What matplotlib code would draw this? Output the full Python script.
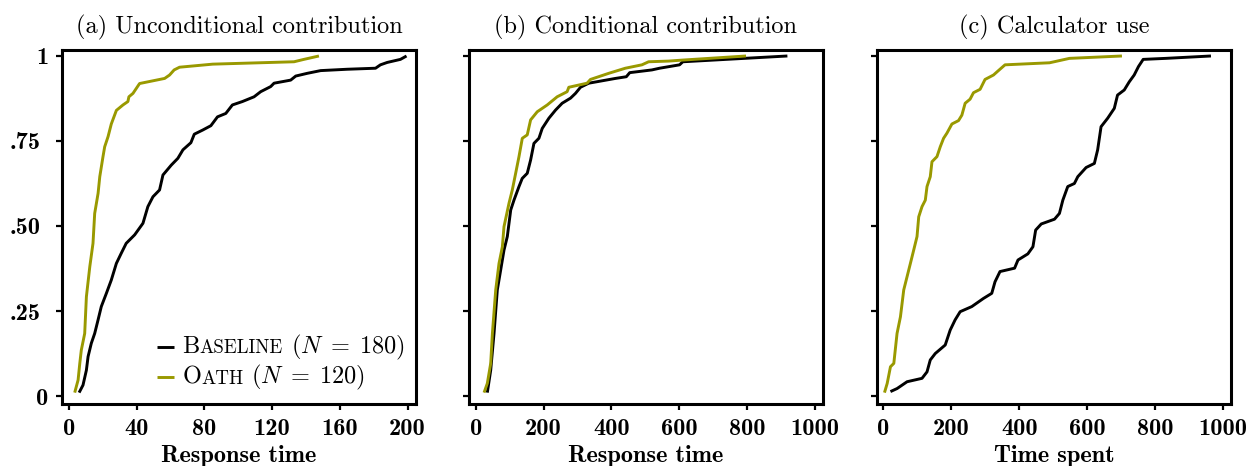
import matplotlib
matplotlib.use("Agg")
import matplotlib.pyplot as plt
from matplotlib.lines import Line2D
from matplotlib.transforms import ScaledTranslation
from matplotlib.offsetbox import TextArea, DrawingArea, HPacker, VPacker, AnchoredOffsetbox

# ---------------- data ----------------
titles = ["(a) Unconditional contribution", "(b) Conditional contribution", "(c) Calculator use"]
xlabels = ["Response time", "Response time", "Time spent"]
yticks = [0, 0.25, 0.5, 0.75, 1]
ytick_labels = ["0", ".25", ".50", ".75", "1"]
xticks_a = [0, 40, 80, 120, 160, 200]
xticks_bc = [0, 200, 400, 600, 800, 1000]

oath_a_x = [3.5, 5.5, 6.5, 7.4, 9.4, 10.4, 12.4, 14.3, 15.3, 17.3, 18.3, 20.2, 21.2, 23.2, 25.1,
            28.1, 32.0, 34.9, 35.5, 37.9, 41.8, 56.6, 59.5, 62.2, 65.4, 85.0, 133.0, 138.8, 147.7]
oath_a_y = [0.01, 0.047, 0.096, 0.135, 0.184, 0.292, 0.38, 0.449, 0.537, 0.596, 0.645, 0.704, 0.733,
            0.763, 0.80, 0.84, 0.856, 0.866, 0.88, 0.89, 0.919, 0.934, 0.944, 0.959, 0.967, 0.976,
            0.983, 0.99, 1.0]

base_a_x = [6.1, 8.4, 10.4, 11.4, 13.3, 15.3, 17.3, 19.2, 22.2, 25.1, 28.1, 31.0, 33.9, 38.9, 43.8,
            46.7, 49.7, 53.6, 55.6, 60.5, 64.4, 67.4, 72.1, 74.1, 79.0, 83.9, 87.8, 92.7, 96.6,
            102.5, 109.4, 113.3, 119.2, 121.2, 131.0, 134.0, 140.8, 148.7, 164.4, 181.1, 184.0,
            188.0, 195.8, 199.4]
base_a_y = [0.01, 0.032, 0.076, 0.116, 0.155, 0.184, 0.224, 0.263, 0.302, 0.341, 0.39, 0.42, 0.449,
            0.474, 0.508, 0.557, 0.586, 0.606, 0.65, 0.679, 0.699, 0.724, 0.745, 0.77, 0.782, 0.795,
            0.821, 0.831, 0.856, 0.866, 0.88, 0.895, 0.91, 0.92, 0.929, 0.941, 0.949, 0.957, 0.961,
            0.964, 0.974, 0.981, 0.99, 1.0]

oath_b_x = [24.4, 34, 44, 49, 58.8, 68.5, 78.4, 83.2, 98, 107.7, 117.6, 127.4, 137.2, 151.8, 161.7,
            181.3, 210.7, 240, 269.4, 274.4, 328.2, 338.2, 392, 441, 490, 509.7, 568.5, 610.6, 797]
oath_b_y = [0.01, 0.037, 0.096, 0.184, 0.312, 0.39, 0.439, 0.498, 0.567, 0.606, 0.655, 0.704, 0.758,
            0.768, 0.812, 0.836, 0.856, 0.88, 0.895, 0.908, 0.92, 0.931, 0.949, 0.964, 0.974, 0.983,
            0.985, 0.988, 1.0]

base_b_x = [34, 44, 53.8, 63.5, 73.5, 83.2, 93, 103, 112.6, 127.4, 137, 151.8, 161.7, 171.5, 186.2,
            196, 215.6, 235.3, 254.7, 279.4, 294, 308.8, 333.2, 411.8, 444, 454, 519.4, 542, 601,
            610.6, 919]
base_b_y = [0.01, 0.076, 0.184, 0.312, 0.371, 0.429, 0.469, 0.547, 0.576, 0.616, 0.64, 0.655, 0.694,
            0.743, 0.758, 0.787, 0.817, 0.841, 0.861, 0.876, 0.89, 0.908, 0.92, 0.934, 0.939, 0.951,
            0.959, 0.964, 0.974, 0.983, 1.0]

oath_c_x = [3, 11, 20.6, 30.5, 40, 50, 59.7, 69.5, 79.3, 89, 98.8, 103.8, 113.5, 123.2, 128.2, 137.8,
            142.8, 157.5, 167.2, 177, 186.8, 201.5, 221, 230.8, 240.5, 255, 265, 284.5, 299, 323.8,
            338.4, 357.8, 488.9, 547.5, 702]
oath_c_y = [0.01, 0.037, 0.086, 0.096, 0.184, 0.233, 0.312, 0.351, 0.39, 0.429, 0.469, 0.527, 0.557,
            0.576, 0.616, 0.645, 0.689, 0.704, 0.733, 0.758, 0.773, 0.8, 0.81, 0.826, 0.861, 0.873,
            0.892, 0.902, 0.931, 0.944, 0.957, 0.974, 0.98, 0.993, 1.0]

base_c_x = [20.6, 40.2, 69.5, 113.5, 128.2, 137.8, 152.5, 181.8, 196.5, 211, 225.8, 260, 294.4,
            318.8, 328.4, 343, 386, 396, 425, 440, 448, 464.5, 503.5, 518, 528, 542.5, 562, 572,
            596.5, 620.8, 630.5, 640.5, 660, 679.5, 689, 708.8, 723.5, 738, 750.7, 764.5, 831, 964]
base_c_y = [0.013, 0.022, 0.042, 0.052, 0.071, 0.106, 0.125, 0.15, 0.194, 0.224, 0.248, 0.263, 0.287,
            0.302, 0.336, 0.366, 0.376, 0.4, 0.418, 0.439, 0.488, 0.506, 0.52, 0.537, 0.576, 0.616,
            0.625, 0.645, 0.672, 0.684, 0.724, 0.792, 0.817, 0.846, 0.885, 0.9, 0.924, 0.944,
            0.969, 0.99, 0.993, 1.0]

legend_names = [("B", "ASELINE", 180), ("O", "ATH", 120)]

# ---------------- style ----------------
plt.rcParams["mathtext.fontset"] = "cm"
plt.rcParams["font.family"] = "cmr10"
plt.rcParams["axes.unicode_minus"] = False

BASE_C = "black"
OATH_C = "#999900"
LW = 2.1
FS = 17.5

fig = plt.figure(figsize=(12.55, 4.66), dpi=100)
W, H = 1255, 466
lefts = [62, 469, 877]
axes = []
for l in lefts:
    ax = fig.add_axes([l / W, (H - 404) / H, 354 / W, 354 / H])
    axes.append(ax)

panels = [
    (base_a_x, base_a_y, oath_a_x, oath_a_y, xticks_a, (-4, 205)),
    (base_b_x, base_b_y, oath_b_x, oath_b_y, xticks_bc, (-20, 1024)),
    (base_c_x, base_c_y, oath_c_x, oath_c_y, xticks_bc, (-19, 1023)),
]

for i, (ax, (bx, by, ox, oy, xt, xl)) in enumerate(zip(axes, panels)):
    ax.plot(bx, by, color=BASE_C, lw=LW, solid_capstyle="butt")
    ax.plot(ox, oy, color=OATH_C, lw=LW, solid_capstyle="butt")
    ax.set_xlim(*xl)
    ax.set_ylim(-0.0235, 1.0176)
    ax.set_xticks(xt)
    ax.set_xticklabels([str(v) for v in xt], fontfamily="cmb10", fontsize=FS)
    ax.set_yticks(yticks)
    if i == 0:
        ax.set_yticklabels(ytick_labels, fontfamily="cmb10", fontsize=FS)
    else:
        ax.tick_params(axis="y", labelleft=False)
    for s in ax.spines.values():
        s.set_linewidth(2.2)
    ax.tick_params(axis="both", direction="out", length=4.3, width=1.6, pad=5.5)
    ax.set_title(titles[i], fontsize=FS, pad=12)
    ax.set_xlabel(xlabels[i], fontfamily="cmb10", fontsize=FS, labelpad=4)

# shift the fractional y labels a bit further left (as in the reference)
for tick, lab in zip(axes[0].yaxis.get_major_ticks(), ytick_labels):
    if lab.startswith("."):
        tick.label1.set_transform(tick.label1.get_transform() +
                                  ScaledTranslation(-8 / 100, 0, fig.dpi_scale_trans))

# legend with small caps emulation
rows = []
for (first, rest, n), col in zip(legend_names, [BASE_C, OATH_C]):
    da = DrawingArea(12.5, 10, 0, 0)
    da.add_artist(Line2D([0, 12.5], [4.8, 4.8], color=col, lw=LW, solid_capstyle="butt"))
    t1 = TextArea(first, textprops=dict(fontsize=FS, family="cmr10"))
    t2 = TextArea(rest, textprops=dict(fontsize=FS * 0.78, family="cmr10"))
    t3 = TextArea(r" $(N\;=\;%d)$" % n, textprops=dict(fontsize=FS, family="cmr10"))
    txt = HPacker(children=[t1, t2, t3], align="baseline", pad=0, sep=0)
    rows.append(HPacker(children=[da, txt], align="baseline", pad=0, sep=6))
box = VPacker(children=rows, align="left", pad=0, sep=1)
anch = AnchoredOffsetbox(loc="lower right", child=box, pad=0, borderpad=0, frameon=False,
                         bbox_to_anchor=(0.968, 0.033), bbox_transform=axes[0].transAxes)
axes[0].add_artist(anch)

fig.savefig("out.png", dpi=100)
